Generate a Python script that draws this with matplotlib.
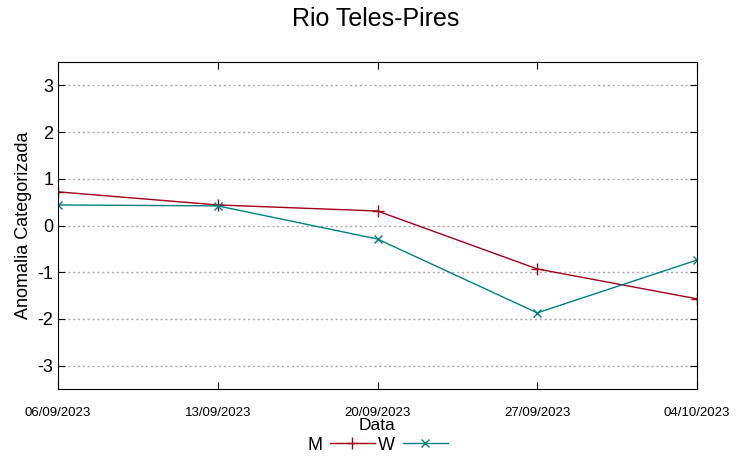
import matplotlib
matplotlib.use("Agg")
import matplotlib.pyplot as plt

plt.rcParams["font.family"] = ["Liberation Sans", "DejaVu Sans"]

dates = ["06/09/2023", "13/09/2023", "20/09/2023", "27/09/2023", "04/10/2023"]
m_vals = [0.72, 0.44, 0.31, -0.93, -1.57]
w_vals = [0.44, 0.42, -0.29, -1.87, -0.74]
yticks = [-3, -2, -1, 0, 1, 2, 3]

fig = plt.figure(figsize=(7.52, 4.58), dpi=100)
ax = fig.add_axes([58/752, 1-389/458, (697-58)/752, (389-62)/458])
x = list(range(len(dates)))
ax.plot(x, m_vals, color="#a0001a", lw=1, marker="+", ms=8, mew=1, label="M")
ax.plot(x, w_vals, color="#008080", lw=1, marker="x", ms=6, mew=1, label="W")
ax.set_xlim(0, len(dates)-1)
ax.set_ylim(-3.5, 3.5)
ax.set_yticks(yticks)
ax.set_yticklabels([str(v) for v in yticks], fontsize=13)
ax.set_xticks(x)
ax.set_xticklabels(dates, fontsize=9.5)
ax.tick_params(axis="x", pad=13)
ax.tick_params(direction="in", top=True, right=True, length=5)
ax.grid(axis="y", color="#aaaaaa", ls=(0, (1.5, 2)), lw=1)
ax.set_ylabel("Anomalia Categorizada", fontsize=13)
ax.set_xlabel("Data", fontsize=12.5, labelpad=-1)
fig.suptitle("Rio Teles-Pires", fontsize=18, y=0.985)
ax.legend(loc="center", bbox_to_anchor=(0.5, -0.172), ncol=2, frameon=False,
          markerfirst=False, fontsize=13, handlelength=2.5, columnspacing=0.2,
          handletextpad=0.4, borderpad=0)
fig.savefig("out.png", dpi=100)
